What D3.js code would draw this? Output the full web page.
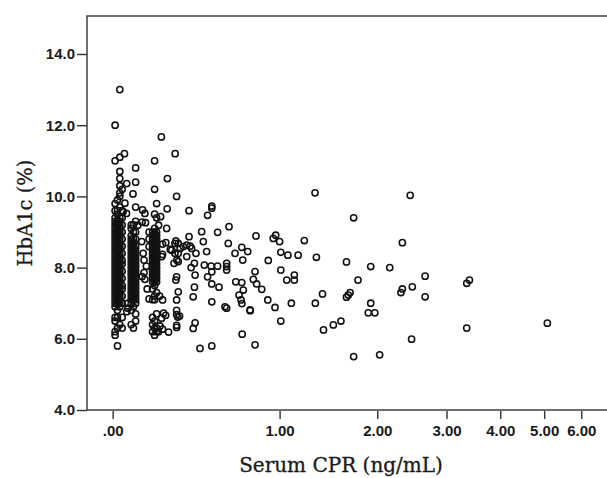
<!DOCTYPE html>
<html><head><meta charset="utf-8">
<script src="https://cdn.jsdelivr.net/npm/d3@7"></script>
<style>body{margin:0;background:#fff}svg{display:block}</style>
</head><body><svg id="c" width="607" height="478"></svg>
<script>
// ---- tick values ----
const cprTicks = [0, 1, 2, 3, 4, 5, 6];
const hbaTicks = [4, 6, 8, 10, 12, 14];

// ---- dense columns: CPR level and the HbA1c values at that level ----
const cprColumns = [0.01, 0.02, 0.03, 0.04, 0.08, 0.09, 0.10, 0.18, 0.19, 0.20];
const hbaAt001 = [6.1,6.2,6.5,6.6,6.9,7.0,7.1,7.2,7.3,7.4,7.5,7.6,7.7,7.8,7.9,8.0,8.1,8.2,8.3,8.4,8.5,8.6,8.7,8.8,8.9,9.0,9.1,9.2,9.3,9.4,9.6,9.8,11.0,12.0];
const hbaAt002 = [5.8,6.3,6.6,6.8,7.0,7.1,7.2,7.3,7.4,7.5,7.6,7.7,7.8,7.9,8.0,8.1,8.2,8.3,8.4,8.5,8.6,8.7,8.8,8.9,9.0,9.1,9.2,9.3,9.5,9.6,9.9];
const hbaAt003 = [6.4,6.9,7.0,7.1,7.2,7.3,7.4,7.5,7.6,7.7,7.8,7.9,8.0,8.1,8.2,8.3,8.4,8.5,8.6,8.7,8.8,8.9,9.0,9.1,9.2,9.3,9.4,9.7,10.0,10.1,10.3,10.5,10.7,11.1,13.0];
const hbaAt004 = [6.3,6.6,7.0,7.2,7.4,7.5,7.7,7.9,8.1,8.2,8.4,8.6,8.8,9.0,9.2,9.4,9.6,10.2];
const hbaAt008 = [6.4,6.8,7.0,7.1,7.2,7.3,7.4,7.5,7.6,7.7,7.8,7.9,8.0,8.1,8.2,8.3,8.4,8.5,8.6,8.7,8.8,8.9,9.1,9.2];
const hbaAt009 = [6.3,6.9,7.1,7.2,7.3,7.4,7.5,7.6,7.7,7.8,7.9,8.0,8.1,8.2,8.3,8.4,8.5,8.6,8.7,8.8,9.0,9.2];
const hbaAt010 = [6.5,6.7,7.0,7.1,7.2,7.3,7.4,7.5,7.6,7.7,7.8,7.9,8.0,8.1,8.2,8.3,8.4,8.5,8.6,8.8,9.0,9.3,9.7,10.4,10.8];
const hbaAt018 = [6.2,6.4,6.6,7.1,7.4,7.6,7.7,7.8,7.9,8.0,8.1,8.2,8.3,8.4,8.5,8.6,8.7,8.8,8.9,9.0];
const hbaAt019 = [6.1,6.3,6.5,7.1,7.2,7.5,7.6,7.7,7.8,7.9,8.0,8.1,8.2,8.3,8.4,8.5,8.6,8.7,8.8,8.9,9.0,9.1,9.5,10.2,11.0];
const hbaAt020 = [6.2,6.3,6.7,7.3,7.6,7.7,7.8,7.9,8.0,8.1,8.2,8.3,8.4,8.5,8.6,8.7,8.8,8.9,9.0,9.4,9.8];
const hbaColumns = [hbaAt001, hbaAt002, hbaAt003, hbaAt004, hbaAt008, hbaAt009, hbaAt010, hbaAt018, hbaAt019, hbaAt020];

// ---- scattered points ----
const cprScatter = [
 0.05,0.224,0.296,0.255,0.06,0.088,0.304,0.254,0.052,0.044,0.059,0.132,0.143,0.373,0.509,0.509,0.483,0.22,0.21,0.146,
 0.11,0.13,0.163,0.163,0.163,0.139,0.15,0.139,0.13,0.154,0.163,0.065,0.065,0.06,0.23,0.226,0.305,0.29,0.23,0.215,
 0.261,0.27,0.235,0.246,0.23,0.247,0.30,0.295,0.323,0.295,0.341,0.36,0.379,0.373,0.388,0.413,0.36,0.278,0.313,0.447,
 0.457,0.477,0.546,0.621,0.616,0.662,0.709,0.716,0.752,0.813,0.304,0.30,0.313,0.304,0.408,0.404,0.397,0.408,0.397,0.385,
 0.404,0.463,0.505,0.546,0.509,0.483,0.509,0.555,0.605,0.605,0.605,0.667,0.709,0.72,0.69,0.704,0.769,0.594,0.605,0.806,
 0.857,0.793,0.818,0.806,0.712,0.509,0.437,0.304,0.304,0.31,0.32,0.304,0.304,0.313,0.509,0.251,0.313,0.128,0.135,0.143,
 0.225,0.23,0.217,0.209,0.71,0.77,
 0.968,0.948,1.0,1.216,1.01,1.07,1.16,1.33,0.908,1.64,1.92,1.01,1.126,1.126,1.06,1.77,1.39,1.32,1.68,1.66,
 1.64,1.92,1.89,1.97,0.904,0.962,1.1,1.01,1.40,1.50,1.58,1.72,1.72,1.317,2.44,2.33,2.16,2.66,3.40,3.35,
 2.33,2.31,2.47,2.66,3.35,5.08,2.46,2.03
];
const hbaScatter = [
 11.2,11.67,11.2,10.5,10.36,10.07,10.0,9.65,9.81,9.57,9.52,9.62,9.52,9.6,9.73,9.67,9.47,9.43,9.19,9.26,
 9.19,9.28,9.0,8.8,8.59,8.21,8.04,7.86,7.75,7.4,7.12,7.0,6.86,6.76,8.37,8.31,8.21,8.12,7.09,7.2,
 6.19,8.51,6.72,6.66,8.66,8.7,8.75,8.68,8.54,8.4,8.59,8.63,8.6,8.87,8.54,8.4,8.31,8.49,8.4,9.01,
 8.73,8.45,8.99,9.15,8.68,8.4,8.57,8.21,8.45,8.89,7.74,7.65,7.32,7.09,7.79,7.45,7.18,6.45,6.29,8.0,
 8.12,8.07,8.04,8.04,7.88,7.74,7.54,7.45,8.12,8.03,7.93,7.6,7.58,7.37,7.23,7.09,6.81,6.9,6.86,7.89,
 7.39,7.67,7.54,5.83,6.13,5.8,5.73,6.8,6.68,6.61,6.64,6.38,6.32,8.17,7.04,9.1,8.68,8.73,8.4,7.67,
 6.58,6.27,6.36,6.2,6.99,6.79,
 8.91,8.82,8.73,8.76,8.43,8.35,8.35,8.29,8.2,8.16,8.03,7.93,7.79,7.65,7.65,7.65,7.26,7.0,7.3,7.23,
 7.17,7.0,6.73,6.73,7.09,6.88,7.0,6.5,6.25,6.39,6.5,5.5,9.4,10.1,10.03,8.7,8.0,7.76,7.65,7.56,
 7.4,7.3,7.46,7.18,6.3,6.44,5.99,5.55
];

// ---- build point table ----
const points = [];
cprColumns.forEach((c, i) => hbaColumns[i].forEach(h => points.push({cpr: c, hba: h})));
cprScatter.forEach((c, i) => points.push({cpr: c, hba: hbaScatter[i]}));

// ---- layout ----
const W = 607, H = 478;
const frameL = 87, frameT = 16, frameB = 410, frameR = 640;
const svg = d3.select("#c");
svg.append("rect").attr("width", W).attr("height", H).attr("fill", "#fff");

// log(x+1) scale
const x = d3.scaleLog().domain([1, 7]).range([112.7, 112.7 + 240.8 * Math.log(7)]);
const y = d3.scaleLinear().domain([4, 14]).range([410, 54]);

const labelFont = "'Liberation Sans', Arial, sans-serif";
const titleFont = "'DejaVu Serif', 'Liberation Serif', serif";

// frame
svg.append("rect")
  .attr("x", frameL).attr("y", frameT)
  .attr("width", frameR - frameL).attr("height", frameB - frameT)
  .attr("fill", "none").attr("stroke", "#333").attr("stroke-width", 1.4);

// points
svg.append("g").selectAll("circle").data(points).join("circle")
  .attr("cx", d => x(d.cpr + 1))
  .attr("cy", d => y(d.hba))
  .attr("r", 3.1)
  .attr("fill", "none")
  .attr("stroke", "#111")
  .attr("stroke-width", 1.55);

// y axis
const yAxis = d3.axisLeft(y).tickValues(hbaTicks).tickSize(10).tickPadding(2)
  .tickFormat(d3.format(".1f"));
const gy = svg.append("g").attr("transform", `translate(${frameL},0)`).call(yAxis);
gy.select(".domain").remove();
gy.selectAll(".tick line").attr("stroke", "#333").attr("stroke-width", 1.4);
gy.selectAll(".tick text").attr("font-family", labelFont).attr("font-size", 15)
  .attr("font-weight", "bold").attr("fill", "#1a1a1a");

// x axis
const xAxis = d3.axisBottom(x).tickValues(cprTicks.map(v => v + 1)).tickSize(8).tickPadding(6)
  .tickFormat(d => { const v = d - 1; return v === 0 ? ".00" : v.toFixed(2); });
const gx = svg.append("g").attr("transform", `translate(0,${frameB + 1})`).call(xAxis);
gx.select(".domain").remove();
gx.selectAll(".tick line").attr("stroke", "#333").attr("stroke-width", 1.4);
gx.selectAll(".tick text").attr("font-family", labelFont).attr("font-size", 15)
  .attr("font-weight", "bold").attr("fill", "#1a1a1a");

// titles
svg.append("text")
  .attr("x", 341).attr("y", 472)
  .attr("text-anchor", "middle")
  .attr("font-family", titleFont).attr("font-size", 20).attr("fill", "#1a1a1a")
  .attr("stroke", "#1a1a1a").attr("stroke-width", 0.3)
  .text("Serum CPR (ng/mL)");

svg.append("text")
  .attr("transform", "translate(32,213) rotate(-90)")
  .attr("text-anchor", "middle")
  .attr("font-family", titleFont).attr("font-size", 19.5).attr("fill", "#1a1a1a")
  .attr("stroke", "#1a1a1a").attr("stroke-width", 0.3)
  .text("HbA1c (%)");
</script>
</body></html>
